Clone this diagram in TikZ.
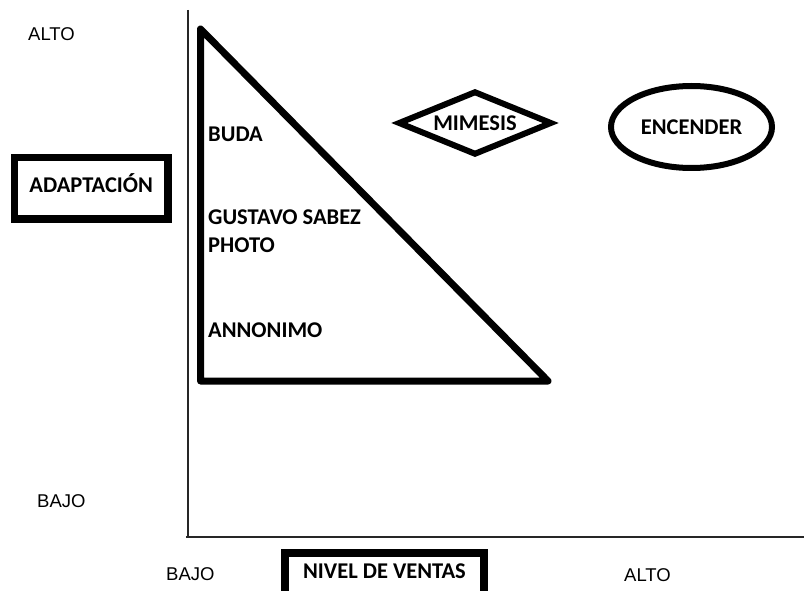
\documentclass[tikz,border=0pt]{standalone}
\usepackage{fontspec}
\setmainfont{Liberation Sans}
\newfontfamily\calib{Carlito}
\usetikzlibrary{shapes.geometric}

\tikzset{
axline/.style={line width=1.6pt, draw=black!85},
trline/.style={line width=7pt, line join=round, line cap=round},
axlabel/.style={
  anchor=base west,
  inner sep=0pt,
  font=\fontsize{18.5}{22}\selectfont,
},
brand/.style={
  anchor=base west,
  inner sep=0pt,
  font=\calib\bfseries\fontsize{22.5}{26}\selectfont,
},
tagbox/.style={
  draw,
  rectangle,
  line width=7.5pt,
  inner sep=0pt,
  text height=14.5pt,
  font=\calib\bfseries\fontsize{22.5}{26}\selectfont,
},
rombo/.style={tagbox, diamond, aspect=2.4, line width=6pt, text depth=0pt,
  minimum width=154pt, minimum height=64pt},
ovalo/.style={tagbox, ellipse, line width=6pt, text depth=0pt,
  minimum width=161pt, minimum height=82pt},
}

\begin{document}
\begin{tikzpicture}[x=1pt,y=-1pt]
\useasboundingbox (0,0) rectangle (804,591);
                  % axes
\coordinate (ytop) at (188,10);
\coordinate (origin) at (188,537);
\coordinate (xstart) at (186,537);
\coordinate (xend) at (806,537);
\draw[axline] (ytop) -- (origin);
\draw[axline] (xstart) -- (xend);
                  % axis labels
\node[axlabel] (y-alto) at (28,41) {ALTO};
\node[axlabel] (y-bajo) at (37,507) {BAJO};
\node[axlabel] (x-bajo) at (166,580) {BAJO};
\node[axlabel] (x-alto) at (624,581) {ALTO};
\node[tagbox, minimum width=153.5pt, minimum height=61.5pt, text depth=5pt]
  (adapt) at (91.25,188.25) {ADAPTACIÓN};
\node[tagbox, minimum width=199pt, minimum height=44pt, text depth=8.5pt]
  (ventas) at (384.5,575) {NIVEL DE VENTAS};
                  % triangle
\coordinate (t-top) at (200.5,29);
\coordinate (t-low) at (200.5,381);
\coordinate (t-right) at (548,381);
\draw[trline] (t-top) -- (t-low) -- (t-right) -- cycle;
\node[brand] (buda) at (208,142) {BUDA};
\node[brand] (gustavo) at (208,225) {GUSTAVO SABEZ};
\node[brand] (photo) at (208,252) {PHOTO};
\node[brand] (annonimo) at (208,337) {ANNONIMO};
                  % top right
\node[rombo] (mimesis) at (475,123) {MIMESIS};
\node[ovalo] (encender) at (691.5,127) {ENCENDER};
\end{tikzpicture}
\end{document}
